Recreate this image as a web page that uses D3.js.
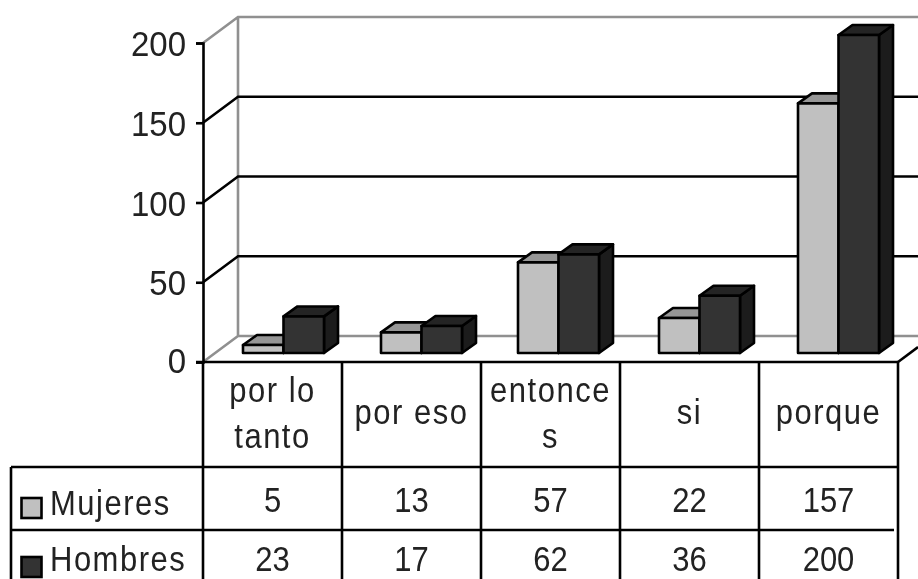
<!DOCTYPE html>
<html><head><meta charset="utf-8">
<script src="https://cdn.jsdelivr.net/npm/d3@7/dist/d3.min.js"></script>
<style>html,body{margin:0;padding:0;background:#fff}svg{display:block;filter:blur(0.45px)}</style>
</head><body><svg id="c" width="918" height="579"></svg>
<script>
const categories = ["por lo tanto","por eso","entonces","si","porque"];
const categoryLines = [["por lo","tanto"],["por eso"],["entonce","s"],["si"],["porque"]];
const seriesNames = ["Mujeres","Hombres"];
const mujeres = [5,13,57,22,157];
const hombres = [23,17,62,36,200];
const yTicks = [0,50,100,150,200];

const svg = d3.select("#c");
const font = "'Liberation Sans',Arial,sans-serif";
const x0 = 203, yFront0 = 362, yFront200 = 43;
const wallDx = 35, wallDy = -26, barDx = 14, barDy = -10;
const y = d3.scaleLinear().domain([0,200]).range([yFront0,yFront200]);
const x = d3.scaleBand().domain(categories).range([x0,898]);
const barY = d3.scaleLinear().domain([0,200]).range([353,35]);
const colors = {Mujeres:{f:"#c0c0c0",t:"#969696"},Hombres:{f:"#333333",t:"#242424"}};
const sideColor = "#1c1c1c";
const wallY = v => y(v)+wallDy;
const lw = 2.6;

// walls
const wallRight = 918;
svg.append("path").attr("d",`M${x0},${y(200)}L${x0+wallDx},${y(200)+wallDy}H${wallRight}M${x0+wallDx},${y(200)+wallDy}V${y(0)+wallDy}H${wallRight}M${x0},${y(0)}L${x0+wallDx},${y(0)+wallDy}`)
  .attr("fill","none").attr("stroke","#909090").attr("stroke-width",lw);
// gridlines
yTicks.filter(v=>v>0&&v<200).forEach(v=>{
  svg.append("path").attr("d",`M${x0},${y(v)}L${x0+wallDx},${wallY(v)}H${wallRight}`)
    .attr("fill","none").attr("stroke","#000").attr("stroke-width",lw);
});
// bars
const bw = 40.5, off = 40;
const groupNudge = [0,-1,-3,-1,-1];
categories.forEach((c,i)=>{
  [["Mujeres",mujeres[i]],["Hombres",hombres[i]]].forEach(([s,v],k)=>{
    const l = x(c)+off+groupNudge[i]+k*bw, r = l+bw, top = barY(v), b = barY(0), col = colors[s];
    const g = svg.append("g").attr("stroke","#000").attr("stroke-width",lw).attr("stroke-linejoin","round");
    g.append("path").attr("fill",sideColor).attr("d",`M${r},${top}L${r+barDx},${top+barDy}V${b+barDy}L${r},${b}Z`);
    g.append("path").attr("fill",col.t).attr("d",`M${l},${top}L${l+barDx},${top+barDy}H${r+barDx}L${r},${top}Z`);
    g.append("rect").attr("fill",col.f).attr("x",l).attr("y",top).attr("width",bw).attr("height",b-top);
  });
});
// y axis
const axis = d3.axisLeft(y).tickValues(yTicks).tickSize(7).tickPadding(6);
const ga = svg.append("g").attr("transform",`translate(${x0},0)`).call(axis);
ga.selectAll("path,line").attr("stroke","#000").attr("stroke-width",lw);
ga.selectAll("text").attr("font-family",font).attr("font-size",33).attr("fill","#222").attr("text-anchor","end")
  .attr("x",0).attr("y",0).attr("dy",0)
  .attr("transform",d=>`translate(-17,${d===0?10:12.5}) scale(1,1.09)`);
// table
const tableLeft = 11;
const lines = svg.append("g").attr("stroke","#000").attr("stroke-width",lw);
lines.append("line").attr("x1",x0-7).attr("x2",898).attr("y1",362).attr("y2",362);
lines.append("line").attr("x1",tableLeft).attr("x2",898).attr("y1",467).attr("y2",467);
lines.append("line").attr("x1",tableLeft).attr("x2",894).attr("y1",530).attr("y2",530);
lines.append("line").attr("x1",tableLeft).attr("x2",tableLeft).attr("y1",467).attr("y2",579);
d3.range(categories.length+1).forEach(i=>{
  const px = x0+i*x.bandwidth();
  lines.append("line").attr("x1",px).attr("x2",px).attr("y1",362).attr("y2",579);
});
lines.append("line").attr("x1",898).attr("x2",918).attr("y1",362).attr("y2",347);
const T = (s,px,py,anchor="middle",ls=1.5)=>svg.append("text").text(s)
  .attr("transform",`translate(${px},${py}) scale(1,1.12)`)
  .attr("text-anchor",anchor).attr("font-family",font).attr("font-size",31).attr("letter-spacing",ls).attr("fill","#222");
categories.forEach((c,i)=>{
  const cx = x(c)+x.bandwidth()/2, ls = categoryLines[i];
  ls.forEach((t,j)=>T(t, cx, ls.length===2 ? 402+j*46 : 424));
  T(String(mujeres[i]),cx,512,"middle",0);
  T(String(hombres[i]),cx,571,"middle",0);
});
seriesNames.forEach((s,k)=>{
  const ry = k===0?508:567;
  svg.append("rect").attr("x",21.5).attr("y",ry-10).attr("width",20).attr("height",20).attr("fill",colors[s].f).attr("stroke","#000").attr("stroke-width",lw);
  T(s,50,k===0?515:571,"start");
});
</script></body></html>
